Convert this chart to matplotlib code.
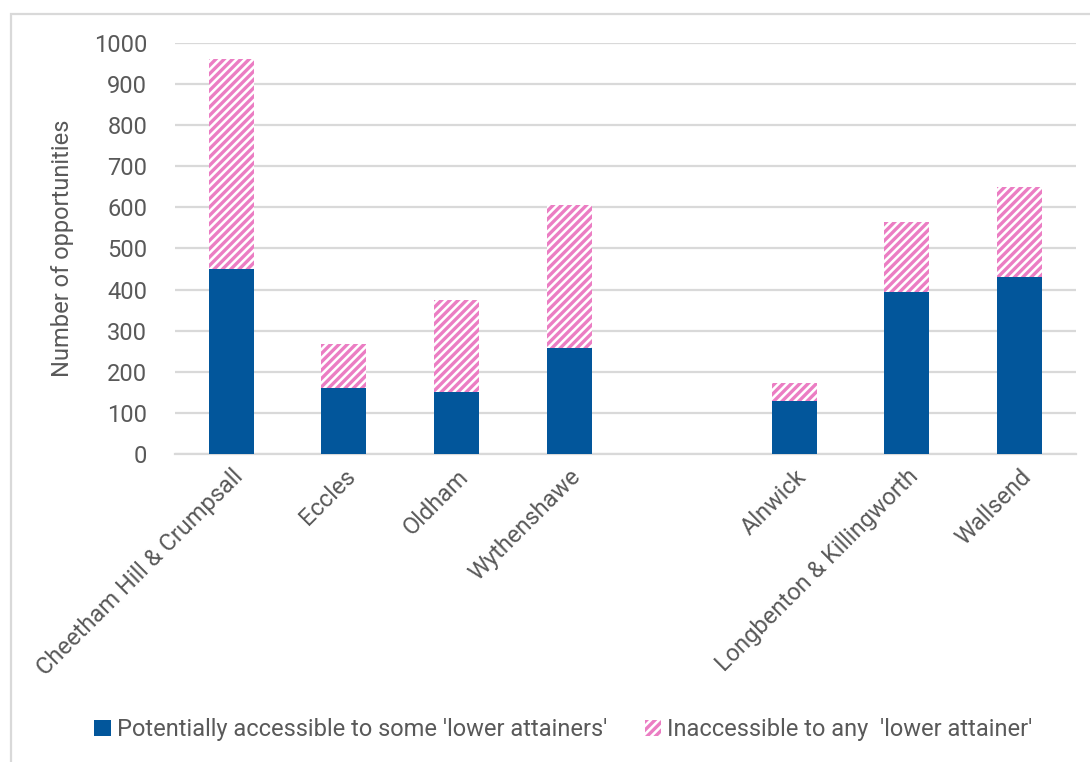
import numpy as np
import matplotlib.pyplot as plt
from matplotlib.patches import Rectangle

plt.rcParams['font.family'] = ['Roboto', 'DejaVu Sans']
plt.rcParams['hatch.linewidth'] = 2.4

# areas, with a blank slot between the two groups
areas = ['Cheetham Hill & Crumpsall', 'Eccles', 'Oldham', 'Wythenshawe', '',
         'Alnwick', 'Longbenton & Killingworth', 'Wallsend']
accessible = [449, 161, 150, 257, 0, 130, 395, 430]
inaccessible = [512, 106, 225, 350, 0, 42, 169, 220]

blue = '#02569B'
pink = '#EB7DC3'
grey_text = '#595959'
grid_col = '#D9D9D9'

fig = plt.figure(figsize=(10.9, 7.62), dpi=100)
ax = fig.add_axes([0.1606, 0.4042, 0.8264, 0.5394])

x = np.arange(len(areas))
ax.bar(x, accessible, width=0.4, color=blue, zorder=3,
       label="Potentially accessible to some 'lower attainers'")
ax.bar(x, inaccessible, bottom=accessible, width=0.4, color='white',
       edgecolor=pink, hatch='////', linewidth=0, zorder=3,
       label="Inaccessible to any  'lower attainer'")

ax.set_xlim(-0.5, len(areas) - 0.5)
ax.set_ylim(0, 1000)
ax.set_yticks(range(0, 1001, 100))
ax.yaxis.grid(True, color=grid_col, linewidth=1.6, zorder=0)
ax.set_axisbelow(True)

ax.set_xticks(x)
ax.set_xticklabels(areas, rotation=45, ha='right', rotation_mode='anchor',
                   fontsize=17, color=grey_text)
ax.tick_params(axis='x', length=0, pad=8)
ax.tick_params(axis='y', length=0, pad=20, labelsize=17, labelcolor=grey_text)

for side in ['top', 'right', 'left']:
    ax.spines[side].set_visible(False)
ax.spines['bottom'].set_color(grid_col)
ax.spines['bottom'].set_linewidth(1.6)

ax.set_ylabel('Number of opportunities', fontsize=17, color=grey_text, labelpad=14)

leg = fig.legend(loc='center', bbox_to_anchor=(0.517, 0.042), ncol=2,
                 frameon=False, fontsize=17, handlelength=0.7, handleheight=0.7,
                 handletextpad=0.25, columnspacing=1.6)
for t in leg.get_texts():
    t.set_color(grey_text)

# chart area border
fig.patches.append(Rectangle((11 / 1090, -0.1), 1.2, 1 - 14 / 762 + 0.1,
                             transform=fig.transFigure, fill=False,
                             edgecolor=grid_col, linewidth=1.6))

fig.savefig('out.png', dpi=100)
